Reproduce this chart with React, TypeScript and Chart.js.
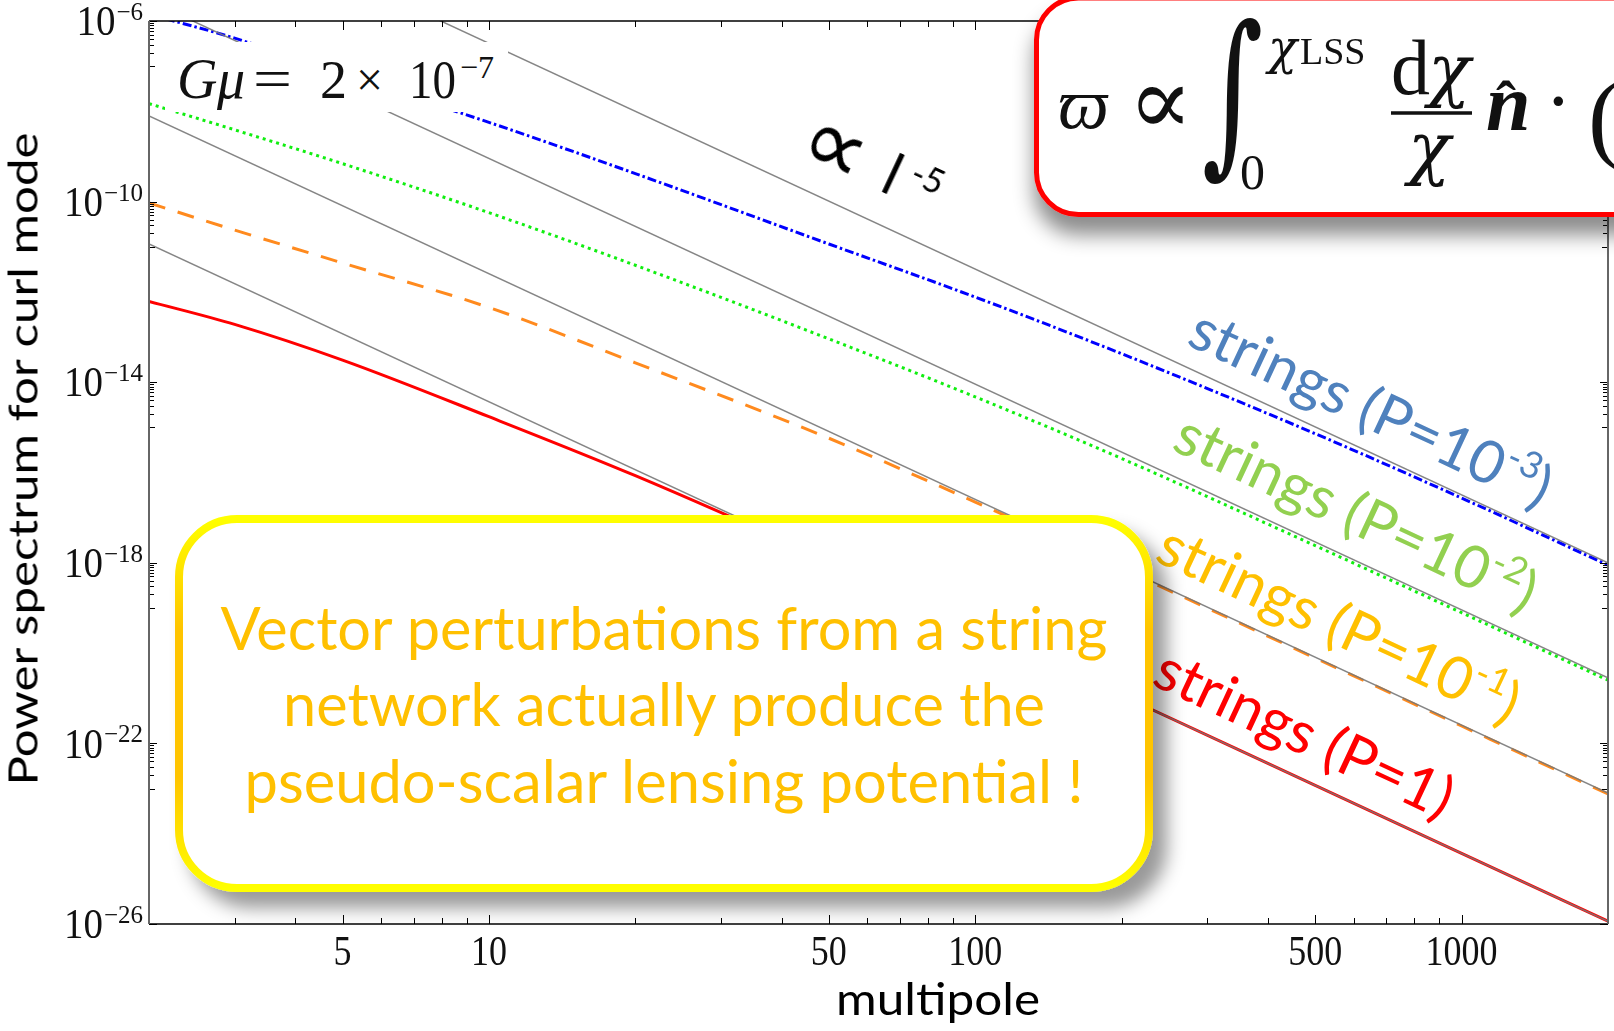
import React, { useEffect, useRef } from 'react';
import { Chart, registerables } from 'chart.js';

Chart.register(...registerables);

// ---------------- data ----------------
const ELL = [2, 3, 5, 10, 20, 50, 100, 200, 500, 1000, 2000];
const STRINGS_P1E3 = [1.41e-6, 4.17e-7, 6.46e-8, 5.69e-9, 4.17e-10, 1.15e-11, 7.67e-13, 4.27e-14, 7.24e-16, 2.72e-17, 8.91e-19];
const STRINGS_P1E2 = [1.48e-8, 3.89e-9, 6.92e-10, 5.69e-11, 3.89e-12, 9.12e-14, 4.73e-15, 2.04e-16, 2.4e-18, 7.85e-20, 2.51e-21];
const STRINGS_P1E1 = [9.33e-11, 2.34e-11, 4.37e-12, 4.52e-13, 2.69e-14, 5.75e-16, 2.21e-17, 7.41e-19, 7.76e-21, 2.43e-22, 7.59e-24];
const STRINGS_P1 = [6.17e-13, 1.91e-13, 3.09e-14, 1.72e-15, 8.51e-17, 1.12e-18, 3.59e-20, 1.15e-21, 1.17e-23, 3.67e-25, 1.15e-26];

// l^-5 asymptotes (straight lines in log-log)
const FIT_ELL = [2, 2000];
const FIT_P1E3 = [1e-3, 1e-18];
const FIT_P1E2 = [2.82e-6, 2.82e-21];
const FIT_P1E1 = [7.94e-9, 7.94e-24];
const FIT_P1 = [1.15e-11, 1.15e-26];

const X_RANGE = [2, 2000];
const Y_RANGE = [1e-26, 1e-6];
const X_TICK_LABELS = [5, 10, 50, 100, 500, 1000];
const Y_LABEL_EXPONENTS = [-6, -10, -14, -18, -22, -26];

const LABEL_FONT = 'Lato, "Open Sans", sans-serif';
const SERIF = '"Liberation Serif", "DejaVu Serif", serif';
const GREEK = '"DejaVu Serif", serif';

function stretchedText(ctx: CanvasRenderingContext2D, text: string, x: number, y: number, size: number, align: CanvasTextAlign, stretch: number) {
  ctx.save();
  ctx.translate(x, y);
  ctx.scale(1, stretch);
  ctx.font = `${size}px "Liberation Serif"`;
  ctx.textAlign = align;
  ctx.textBaseline = 'alphabetic';
  ctx.fillText(text, 0, 0);
  ctx.restore();
}

const frameTicksPlugin = {
  id: 'frameTicks',
  afterDatasetsDraw(chart: any) {
    const { ctx, chartArea: a } = chart;
    const xs = chart.scales.x;
    const ys = chart.scales.y;
    ctx.save();
    const seg = (x1: number, y1: number, x2: number, y2: number) => {
      ctx.beginPath();
      ctx.moveTo(x1, y1);
      ctx.lineTo(x2, y2);
      ctx.stroke();
    };
    ctx.strokeStyle = '#000';
    ctx.lineWidth = 1;
    for (let n = 0; n <= 3; n++) {
      for (let k = 1; k <= 9; k++) {
        const v = k * Math.pow(10, n);
        if (v < X_RANGE[0] || v > X_RANGE[1]) continue;
        const len = X_TICK_LABELS.includes(v) ? 9 : 6;
        const px = Math.round(xs.getPixelForValue(v)) + 0.5;
        seg(px, a.bottom, px, a.bottom - len);
        seg(px, a.top, px, a.top + len);
      }
    }
    Y_LABEL_EXPONENTS.forEach((e) => {
      const marks: [number, number][] = [[Math.pow(10, e), 8]];
      for (let k = 2; k <= 9; k++) marks.push([k * Math.pow(10, e - 1), 5]);
      marks.push([Math.pow(10, e - 1), 6]);
      marks.forEach(([v, len]) => {
        if (v < Y_RANGE[0] * 0.999 || v > Y_RANGE[1] * 1.001) return;
        const py = Math.round(ys.getPixelForValue(v)) + 0.5;
        seg(a.left, py, a.left + len, py);
        seg(a.right, py, a.right - len, py);
      });
    });
    // frame
    ctx.strokeStyle = '#000';
    ctx.lineWidth = 1.5;
    seg(a.left, a.top, a.right, a.top);
    seg(a.left, a.bottom, a.right, a.bottom);
    ctx.strokeStyle = '#666';
    ctx.lineWidth = 2;
    seg(a.left, a.top, a.left, a.bottom);
    seg(a.right, a.top, a.right, a.bottom);
    // tick labels
    ctx.fillStyle = '#111';
    X_TICK_LABELS.forEach((v) => {
      const px = xs.getPixelForValue(v);
      stretchedText(ctx, String(v), px, 965, 36, 'center', 1.15);
    });
    Y_LABEL_EXPONENTS.forEach((e) => {
      const py = ys.getPixelForValue(Math.pow(10, e));
      const sup = '\u2212' + String(-e);
      ctx.font = '25px "Liberation Serif"';
      const supW = ctx.measureText(sup).width;
      const right = a.left - 6;
      stretchedText(ctx, sup, right, py - 1, 25, 'right', 1.0);
      stretchedText(ctx, '10', right - supW - 1, py + 0.33 * 39 * 1.1, 39, 'right', 1.1);
    });
    ctx.restore();
  },
};

export default function App() {
  const canvasRef = useRef<HTMLCanvasElement>(null);

  useEffect(() => {
    const canvas = canvasRef.current;
    if (!canvas) return;
    const toPts = (xs: number[], ys: number[]) => xs.map((x, i) => ({ x, y: ys[i] }));
    const fitStyle = { borderColor: 'rgba(120,120,120,0.9)', borderWidth: 1.5, pointRadius: 0, fill: false };
    const curve = { pointRadius: 0, fill: false, borderWidth: 3, cubicInterpolationMode: 'monotone' as const };
    const chart = new Chart(canvas, {
      type: 'line',
      data: {
        datasets: [
          { label: 'fit P=1e-3', data: toPts(FIT_ELL, FIT_P1E3), ...fitStyle },
          { label: 'fit P=1e-2', data: toPts(FIT_ELL, FIT_P1E2), ...fitStyle },
          { label: 'fit P=1e-1', data: toPts(FIT_ELL, FIT_P1E1), ...fitStyle },
          { label: 'fit P=1', data: toPts(FIT_ELL, FIT_P1), ...fitStyle },
          { label: 'strings P=1e-3', data: toPts(ELL, STRINGS_P1E3), borderColor: '#0000ff', borderDash: [9, 3, 2.5, 3], ...curve },
          { label: 'strings P=1e-2', data: toPts(ELL, STRINGS_P1E2), borderColor: '#11ee11', borderDash: [3, 4], ...curve },
          { label: 'strings P=1e-1', data: toPts(ELL, STRINGS_P1E1), borderColor: '#ff8a1e', borderDash: [17, 13], ...curve },
          { label: 'strings P=1', data: toPts(ELL, STRINGS_P1), borderColor: '#ff0000', ...curve },
        ],
      },
      options: {
        responsive: false,
        animation: false,
        devicePixelRatio: 1,
        events: [],
        layout: { padding: { left: 149, top: 21, right: 6, bottom: 107 } },
        plugins: { legend: { display: false }, tooltip: { enabled: false }, title: { display: false } },
        scales: {
          x: { type: 'logarithmic', min: X_RANGE[0], max: X_RANGE[1], display: false },
          y: { type: 'logarithmic', min: Y_RANGE[0], max: Y_RANGE[1], display: false },
        },
      },
      plugins: [frameTicksPlugin],
    } as any);
    return () => chart.destroy();
  }, []);

  return (
    <div style={{ position: 'fixed', left: 0, top: 0, width: 1614, height: 1031, overflow: 'hidden', background: '#fff' }}>
      <canvas ref={canvasRef} width={1614} height={1031} style={{ position: 'absolute', left: 0, top: 0, width: 1614, height: 1031 }} />
      <svg width={1614} height={1031} style={{ position: 'absolute', left: 0, top: 0, pointerEvents: 'none' }}>
        <defs>
          <filter id="shadowBR" x="-10%" y="-10%" width="130%" height="140%">
            <feDropShadow dx="14" dy="16" stdDeviation="9" floodColor="#000" floodOpacity="0.4" />
          </filter>
          <filter id="shadowB" x="-10%" y="-10%" width="130%" height="140%">
            <feDropShadow dx="0" dy="18" stdDeviation="10" floodColor="#000" floodOpacity="0.45" />
          </filter>
          <linearGradient id="yellowEdge" x1="0" y1="0" x2="0" y2="1">
            <stop offset="0" stopColor="#ffff00" />
            <stop offset="0.3" stopColor="#ffc400" />
            <stop offset="0.7" stopColor="#ffc400" />
            <stop offset="1" stopColor="#ffff00" />
          </linearGradient>
        </defs>

        {/* G mu label */}
        <rect x={165} y={42} width={343} height={70} fill="#fff" />
        <text x={177} y={98} fontFamily={SERIF} fontStyle="italic" fontSize={56} fill="#111">G</text>
        <text x={217} y={98} fontFamily={SERIF} fontStyle="italic" fontSize={56} fill="#111">μ</text>
        <text x={253} y={98} fontFamily={SERIF} fontSize={56} fill="#111" textLength={39} lengthAdjust="spacingAndGlyphs">=</text>
        <text x={320} y={98} fontFamily={SERIF} fontSize={54} fill="#111">2</text>
        <text x={356} y={96} fontFamily={SERIF} fontSize={48} fill="#111">×</text>
        <text x={409} y={98} fontFamily={SERIF} fontSize={54} fill="#111" textLength={47} lengthAdjust="spacingAndGlyphs">10</text>
        <text x={460} y={78} fontFamily={SERIF} fontSize={32} fill="#111">−7</text>

        {/* proportional to l^-5 */}
        <g transform="translate(878,190) rotate(25)">
          <text x={-90} y={8} fontFamily='"DejaVu Sans", sans-serif' fontSize={92} fill="#000">∝</text>
          <text x={0} y={0} fontFamily={LABEL_FONT} fontSize={58} fill="#000">l</text>
          <text x={24} y={-20} fontFamily={LABEL_FONT} fontSize={34} fill="#000">-5</text>
        </g>

        {/* string labels */}
        <g transform="translate(1185,344) rotate(25)">
          <text x={0} y={0} fontFamily={LABEL_FONT} fontSize={59} fill="#4f81bd">
            strings (P=10<tspan dy={-24} fontSize={37}>-3</tspan><tspan dy={24}>)</tspan>
          </text>
        </g>
        <g transform="translate(1170,449) rotate(25)">
          <text x={0} y={0} fontFamily={LABEL_FONT} fontSize={59} fill="#92d050">
            strings (P=10<tspan dy={-24} fontSize={37}>-2</tspan><tspan dy={24}>)</tspan>
          </text>
        </g>
        <g transform="translate(1153,560) rotate(25)">
          <text x={0} y={0} fontFamily={LABEL_FONT} fontSize={59} fill="#ffc000">
            strings (P=10<tspan dy={-24} fontSize={37}>-1</tspan><tspan dy={24}>)</tspan>
          </text>
        </g>
        <g transform="translate(1150,684) rotate(25)">
          <text x={0} y={0} fontFamily={LABEL_FONT} fontSize={59} fill="#ff0000">strings (P=1)</text>
        </g>

        {/* yellow call-out */}
        <rect x={179} y={519} width={970} height={369} rx={58} fill="#fff" stroke="url(#yellowEdge)" strokeWidth={8} filter="url(#shadowBR)" />
        <text x={664} y={650} textAnchor="middle" fontFamily={LABEL_FONT} fontSize={60} fill="#ffc000" textLength={887} lengthAdjust="spacingAndGlyphs">Vector perturbations from a string</text>
        <text x={664} y={726} textAnchor="middle" fontFamily={LABEL_FONT} fontSize={60} fill="#ffc000" textLength={762} lengthAdjust="spacingAndGlyphs">network actually produce the</text>
        <text x={664} y={803} textAnchor="middle" fontFamily={LABEL_FONT} fontSize={60} fill="#ffc000" textLength={839} lengthAdjust="spacingAndGlyphs">pseudo-scalar lensing potential !</text>

        {/* formula box */}
        <rect x={1036.5} y={-2} width={660} height={216.5} rx={42} fill="#fff" stroke="#ff0000" strokeWidth={5} filter="url(#shadowB)" />
        <text x={1058} y={128} fontFamily={SERIF} fontStyle="italic" fontSize={72} fill="#111">ϖ</text>
        <text x={1128} y={134} fontFamily={GREEK} fontSize={96} fill="#111">∝</text>
        <g transform="translate(1202,152) scale(1,1.5)">
          <text x={0} y={0} fontFamily={GREEK} fontSize={118} fill="#111">∫</text>
        </g>
        <text x={1268} y={64} fontFamily={GREEK} fontStyle="italic" fontSize={48} fill="#111">χ</text>
        <text x={1300} y={64} fontFamily={SERIF} fontSize={38} fill="#111">LSS</text>
        <text x={1240} y={189} fontFamily={SERIF} fontSize={50} fill="#111">0</text>
        <text x={1391} y={94} fontFamily={SERIF} fontSize={78} fill="#111">d</text>
        <text x={1428} y={94} fontFamily={GREEK} fontStyle="italic" fontSize={70} fill="#111">χ</text>
        <line x1={1391} x2={1472} y1={113} y2={113} stroke="#111" strokeWidth={3.5} />
        <text x={1408} y={172} fontFamily={GREEK} fontStyle="italic" fontSize={70} fill="#111">χ</text>
        <text x={1486} y={130} fontFamily={SERIF} fontStyle="italic" fontWeight="bold" fontSize={80} fill="#111">n</text>
        <text x={1496} y={122} fontFamily={SERIF} fontWeight="bold" fontSize={60} fill="#111">ˆ</text>
        <text x={1545} y={128} fontFamily={SERIF} fontSize={80} fill="#111">·</text>
        <text x={1588} y={150} fontFamily={SERIF} fontSize={100} fill="#111">(</text>

        {/* axis titles */}
        <g transform="translate(37.5,459) rotate(-90)">
          <text x={0} y={0} textAnchor="middle" fontFamily={LABEL_FONT} fontSize={41} fill="#000" textLength={653} lengthAdjust="spacingAndGlyphs">Power spectrum for curl mode</text>
        </g>
        <text x={938} y={1015} textAnchor="middle" fontFamily={LABEL_FONT} fontSize={44} fill="#000" textLength={204} lengthAdjust="spacingAndGlyphs">multipole</text>
      </svg>
    </div>
  );
}
